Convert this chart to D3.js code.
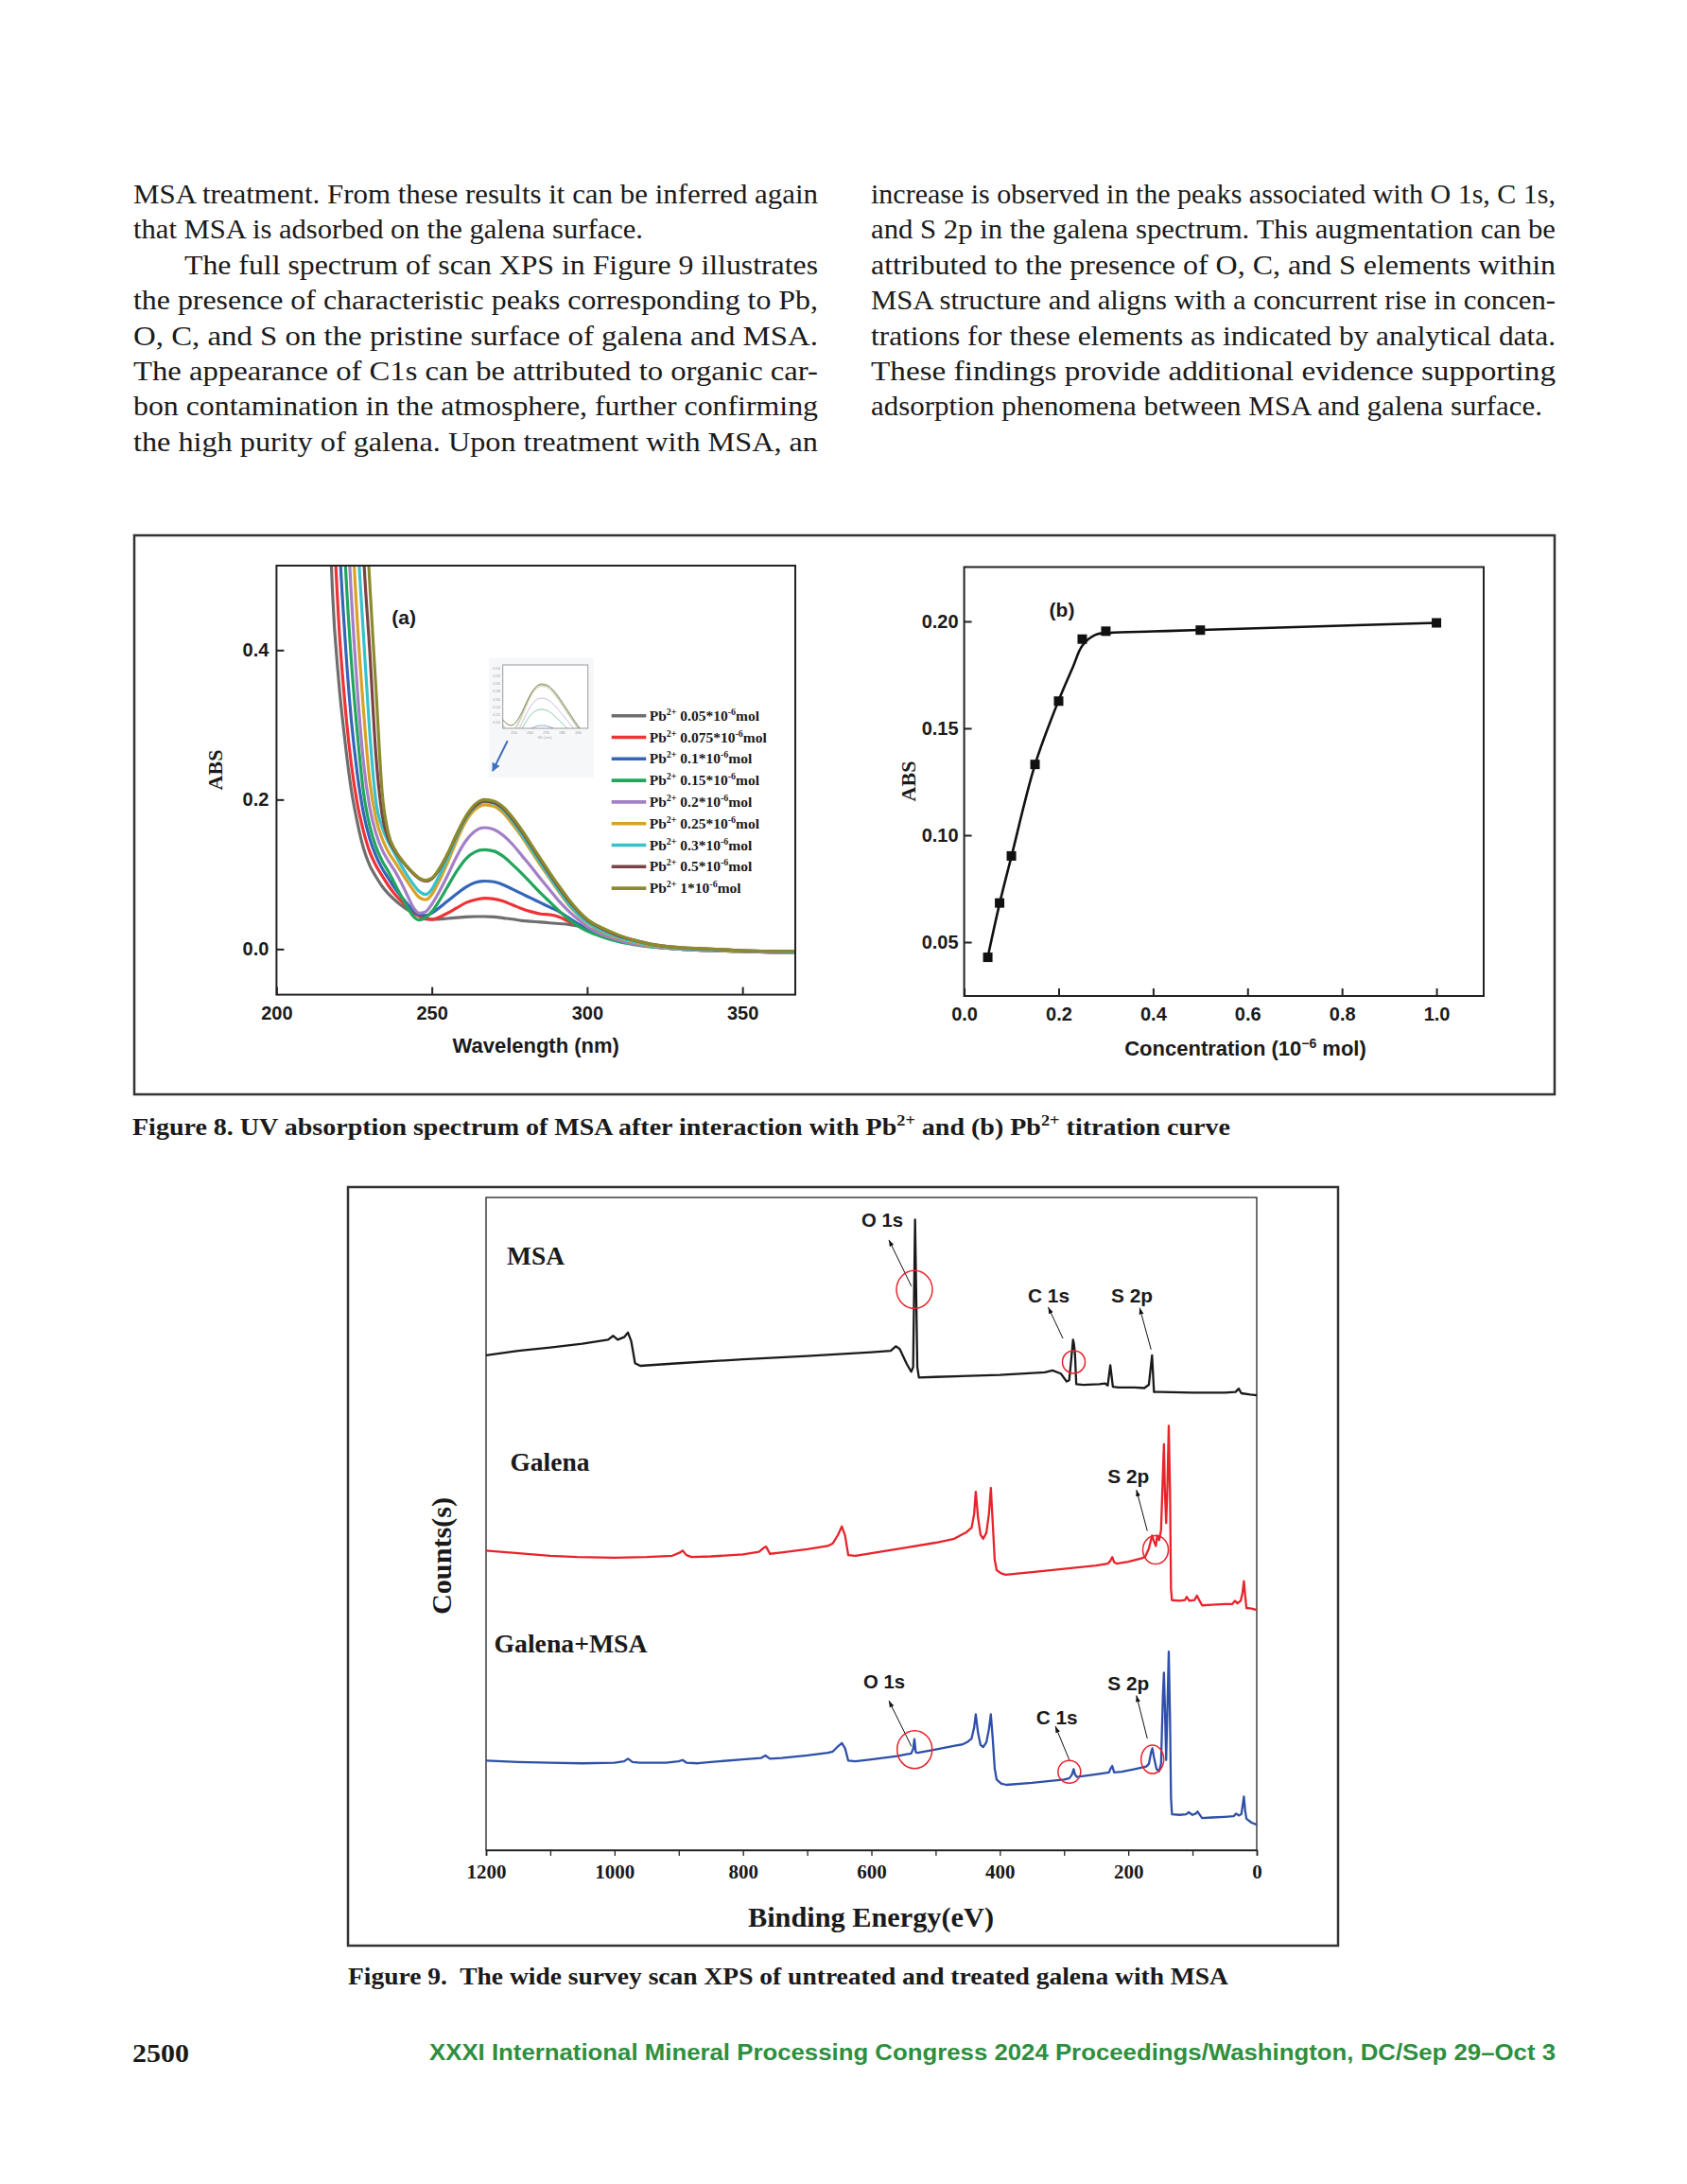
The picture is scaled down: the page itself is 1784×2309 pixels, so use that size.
<!DOCTYPE html>
<html>
<head>
<meta charset="utf-8">
<script src="https://cdn.jsdelivr.net/npm/d3@7"></script>
<style>
  body { margin: 0; background: #fff; }
  svg { display: block; }
</style>
</head>
<body>
<svg id="page" width="1784" height="2309"></svg>
<script>
// ---------- page text ----------
const leftLines = [
  "MSA treatment. From these results it can be inferred again",
  "that MSA is adsorbed on the galena surface.",
  "The full spectrum of scan XPS in Figure 9 illustrates",
  "the presence of characteristic peaks corresponding to Pb,",
  "O, C, and S on the pristine surface of galena and MSA.",
  "The appearance of C1s can be attributed to organic car-",
  "bon contamination in the atmosphere, further confirming",
  "the high purity of galena. Upon treatment with MSA, an"
];
const rightLines = [
  "increase is observed in the peaks associated with O 1s, C 1s,",
  "and S 2p in the galena spectrum. This augmentation can be",
  "attributed to the presence of O, C, and S elements within",
  "MSA structure and aligns with a concurrent rise in concen-",
  "trations for these elements as indicated by analytical data.",
  "These findings provide additional evidence supporting",
  "adsorption phenomena between MSA and galena surface."
];

// ---------- Figure 8a: UV spectra ----------
const wavelength = [212,214,216,218,220,222,224,226,228,230,232,234,236,238,240,242,244,246,248,250,
  252,255,258,261,264,267,270,273,276,279,282,285,288,291,294,297,300,
  305,310,315,320,330,340,350,360,367];
const abs005 = [2.0,1.2,0.75,0.48,0.36,0.28,0.215,0.17,0.135,0.112,0.097,0.084,0.074,0.066,0.059,0.053,0.048,0.044,0.041,0.040,
  0.040,0.041,0.042,0.043,0.0435,0.0435,0.043,0.0415,0.040,0.038,0.037,0.036,0.035,0.034,0.033,0.031,0.028,
  0.021,0.014,0.009,0.005,0.001,-0.001,-0.003,-0.004,-0.004];
const abs0075 = [3.0,1.8,1.0,0.63,0.44,0.33,0.25,0.195,0.158,0.13,0.112,0.098,0.085,0.074,0.065,0.057,0.05,0.044,0.040,0.0395,
  0.042,0.048,0.055,0.062,0.066,0.068,0.067,0.064,0.059,0.054,0.050,0.047,0.046,0.043,0.037,0.031,0.026,
  0.019,0.013,0.008,0.004,0.0,-0.002,-0.003,-0.004,-0.004];
const abs01 = [4.0,2.5,1.4,0.85,0.57,0.42,0.31,0.235,0.182,0.148,0.125,0.108,0.095,0.082,0.071,0.061,0.052,0.046,0.045,0.048,
  0.054,0.064,0.074,0.083,0.089,0.091,0.090,0.086,0.080,0.074,0.068,0.062,0.056,0.050,0.042,0.034,0.027,
  0.019,0.013,0.008,0.004,0.0,-0.002,-0.003,-0.004,-0.004];
const abs015 = [5.0,3.2,1.9,1.15,0.75,0.53,0.39,0.29,0.21,0.165,0.137,0.118,0.104,0.088,0.072,0.057,0.044,0.039,0.042,0.050,
  0.062,0.083,0.104,0.121,0.130,0.133,0.131,0.124,0.113,0.101,0.088,0.075,0.063,0.051,0.040,0.031,0.024,
  0.016,0.010,0.006,0.003,0.0,-0.002,-0.003,-0.004,-0.004];
const abs02 = [6.0,4.0,2.5,1.5,0.95,0.66,0.48,0.35,0.25,0.19,0.155,0.133,0.118,0.105,0.09,0.073,0.056,0.048,0.050,0.060,
  0.074,0.098,0.124,0.145,0.158,0.1625,0.160,0.152,0.140,0.125,0.110,0.094,0.079,0.064,0.051,0.040,0.030,
  0.019,0.012,0.007,0.004,0.0,-0.002,-0.003,-0.004,-0.004];
const abs025 = [7.0,5.0,3.2,2.0,1.25,0.85,0.6,0.44,0.32,0.225,0.175,0.148,0.13,0.117,0.104,0.091,0.079,0.069,0.066,0.073,
  0.088,0.115,0.145,0.171,0.187,0.193,0.191,0.182,0.167,0.150,0.131,0.112,0.094,0.076,0.059,0.046,0.035,
  0.023,0.015,0.009,0.005,0.001,-0.001,-0.003,-0.003,-0.004];
const abs03 = [8.0,6.0,4.0,2.6,1.6,1.05,0.75,0.56,0.42,0.29,0.198,0.163,0.143,0.128,0.113,0.099,0.087,0.077,0.073,0.080,
  0.095,0.121,0.150,0.175,0.191,0.197,0.195,0.186,0.171,0.153,0.134,0.115,0.096,0.078,0.061,0.047,0.036,
  0.024,0.016,0.010,0.006,0.001,-0.001,-0.002,-0.003,-0.004];
const abs05 = [9.0,7.0,5.0,3.4,2.2,1.45,1.0,0.74,0.53,0.40,0.26,0.18,0.148,0.132,0.12,0.11,0.101,0.094,0.091,0.094,
  0.104,0.126,0.153,0.177,0.192,0.198,0.196,0.188,0.174,0.157,0.138,0.119,0.100,0.082,0.065,0.051,0.039,
  0.027,0.018,0.012,0.007,0.002,0.0,-0.002,-0.003,-0.003];
const abs1 = [10,8,6,4,2.7,1.8,1.25,0.9,0.66,0.49,0.35,0.21,0.155,0.134,0.121,0.111,0.102,0.095,0.092,0.095,
  0.105,0.127,0.154,0.178,0.194,0.200,0.198,0.190,0.176,0.159,0.140,0.121,0.102,0.084,0.067,0.052,0.040,
  0.028,0.019,0.012,0.007,0.002,0.0,-0.002,-0.003,-0.003];

const uvLabels = ["0.05", "0.075", "0.1", "0.15", "0.2", "0.25", "0.3", "0.5", "1"];
const uvColors = ["#6e6e6e", "#ee3236", "#3465b8", "#22a55c", "#a27fc6", "#d9a227", "#37c1cb", "#7b4343", "#8c8a2e"];
const uvValues = [abs005, abs0075, abs01, abs015, abs02, abs025, abs03, abs05, abs1];

// ---------- Figure 8b: titration ----------
const concentration = [0.05, 0.075, 0.1, 0.15, 0.2, 0.25, 0.3, 0.5, 1.0];
const titrationAbs = [0.0429, 0.0683, 0.0903, 0.1331, 0.1627, 0.1917, 0.1954, 0.1959, 0.1993];
const fitConc = [0.05, 0.075, 0.1, 0.15, 0.2, 0.23, 0.25, 0.278, 0.307, 0.4, 0.5, 0.7, 1.0];
const fitAbs = [0.043, 0.068, 0.090, 0.133, 0.163, 0.1785, 0.1886, 0.1937, 0.1946, 0.1953, 0.196, 0.1973, 0.1993];

// ---------- Figure 9: XPS survey [binding energy, counts a.u.] ----------
const msaSpectrum = [[1200,75.8],[1150,76.5],[1100,77.0],[1050,77.6],[1010,78.2],[1002,78.8],[995,78.2],[985,78.6],[979,79.3],[974,78.0],
  [968,74.6],[960,74.2],[900,74.6],[800,75.2],[700,75.7],[600,76.3],[570,76.5],[562,77.2],[556,76.8],[545,74.5],[538,73.3],
  [535,74],[532,96.6],[528.5,74],[526,72.4],[500,72.5],[400,72.8],[330,73.2],[318,73.5],[305,73.0],[296,71.8],[292,72],
  [289,75],[286,78.2],[284.5,77.5],[283,76],[281,71.4],[270,71.3],[245,71.4],[236,71.5],[232,71.2],[228,74.3],[224,71.0],
  [215,70.9],[190,70.9],[175,70.8],[168,71.3],[163,75.8],[160,70.2],[150,70.2],[100,70.1],[50,70.1],[33,70.2],[28,70.7],
  [24,70.0],[10,69.8],[0,69.7]];
const galenaSpectrum = [[1200,45.9],[1150,45.5],[1100,45.1],[1058,44.9],[1000,44.8],[950,44.9],[910,45.1],[898,45.6],[894,45.9],
  [888,45.2],[880,44.9],[850,45.0],[800,45.3],[775,45.7],[768,46.3],[764,46.5],[758,45.4],[740,45.6],[700,46.1],[668,46.6],
  [660,47.0],[652,48.3],[646,49.6],[641,48.2],[636,45.2],[625,45.1],[600,45.5],[550,46.3],[500,47.1],[471,47.7],[462,48.2],
  [452,48.7],[444,49.4],[440,51.5],[437.5,54.9],[434,51],[430,48.3],[426,47.7],[421,48.6],[417,51.5],[414,55.5],[411,50],
  [408,44.5],[405,42.9],[398,42.4],[391,42.2],[350,42.6],[300,43.1],[250,43.6],[232,43.9],[228,44.3],[225,44.9],[222,44.1],
  [218,43.9],[200,44.2],[180,44.7],[174,44.9],[168,46.2],[163,48.2],[160,47.3],[157,46.6],[155,48.2],[152,47.5],[149,49.0],
  [146,58],[144.5,62.2],[143,55],[141,50.1],[139,56],[137,65.0],[135,55],[133.5,40],[132,38.3],[120,38.2],[112,38.3],
  [109,38.8],[105,38.2],[97,38.3],[93,39.0],[89,38.2],[85,37.5],[70,37.6],[50,37.7],[38,37.7],[34,38.2],[30,37.8],[25,38.2],
  [22,39.5],[20,41.2],[18,39],[16,37.1],[8,37.0],[0,36.8]];
const galenaMsaSpectrum = [[1200,13.7],[1150,13.5],[1100,13.4],[1050,13.3],[1000,13.4],[985,13.6],[979,14.0],[972,13.5],[960,13.4],
  [920,13.4],[900,13.6],[894,13.8],[888,13.4],[870,13.3],[850,13.5],[800,13.9],[772,14.1],[765,14.5],[758,14.0],[740,14.1],
  [700,14.5],[668,14.9],[660,15.1],[652,15.9],[646,16.4],[641,15.6],[636,13.7],[625,13.6],[600,13.9],[560,14.4],[545,14.7],
  [538,14.8],[535,15.5],[533,17.0],[531,15.0],[528,14.9],[500,15.4],[470,16.0],[458,16.2],[450,16.6],[444,17.1],[440,18.8],
  [437.5,20.8],[434,18],[430,16.1],[426,15.8],[421,16.5],[417,18.5],[414,20.8],[411,17],[408,12.5],[405,10.8],[398,10.2],
  [390,10.0],[350,10.3],[300,10.8],[292,11.0],[288,11.5],[285,12.4],[283,11.6],[280,11.2],[250,11.6],[230,11.9],[228,12.4],
  [225,12.9],[222,11.9],[210,12.0],[190,12.4],[172,12.8],[168,13.2],[164.5,15.0],[162.5,15.6],[160,14.2],[156,12.4],[152,12.1],
  [149,13.2],[146,24],[144.5,27.2],[143,22],[141,13.8],[139,22],[137,30.4],[135,20],[133.5,8],[132,5.5],[120,5.4],[110,5.5],
  [106,5.8],[100,5.4],[95,5.6],[92,5.9],[88,5.3],[85,4.9],[70,5.0],[50,5.1],[36,5.2],[32,5.6],[28,5.3],[24,5.5],[22,6.8],
  [20,8.2],[18,6],[16,4.8],[8,4.2],[0,3.9]];
const xpsTicks = [1200, 1000, 800, 600, 400, 200, 0];

const serif = "'Liberation Serif','Times New Roman',serif";
const sans = "'Liberation Sans',Arial,sans-serif";
const svg = d3.select('#page');
const defs = svg.append('defs');

defs.append('marker').attr('id', 'ah')
  .attr('viewBox', '0 0 10 10').attr('refX', 10).attr('refY', 5)
  .attr('markerWidth', 7).attr('markerHeight', 7).attr('orient', 'auto')
  .append('path').attr('d', 'M0,1.5 L10,5 L0,8.5 Z').attr('fill', '#111');
defs.append('marker').attr('id', 'ahBlue')
  .attr('viewBox', '0 0 10 10').attr('refX', 9).attr('refY', 5)
  .attr('markerWidth', 4.5).attr('markerHeight', 4.5).attr('orient', 'auto')
  .append('path').attr('d', 'M0,0 L10,5 L0,10 Z').attr('fill', '#3f6fc0');

// ---------- body text (justified with textLength) ----------
function drawColumn(lines, x0, x1, y0, lh, opts) {
  lines.forEach((ln, i) => {
    const indent = opts.indent[i] || 0;
    const w = opts.widths[i] || (x1 - x0 - indent);
    svg.append('text')
      .attr('x', x0 + indent).attr('y', y0 + i * lh)
      .attr('font-family', serif).attr('font-size', 30).attr('fill', '#1a1a1a')
      .attr('textLength', w).attr('lengthAdjust', 'spacingAndGlyphs')
      .text(ln);
  });
}
drawColumn(leftLines, 141, 865, 215, 37.4, { indent: { 2: 54 }, widths: { 1: 539 } });
drawColumn(rightLines, 921, 1645, 215, 37.4, { indent: {}, widths: { 6: 710 } });

// ---------- Figure 8 frame ----------
svg.append('rect').attr('x', 142).attr('y', 566).attr('width', 1502).attr('height', 591)
  .attr('fill', 'none').attr('stroke', '#333').attr('stroke-width', 2.5);

// ---------- Figure 8a ----------
const gA = svg.append('g');
const xA = d3.scaleLinear().domain([200, 367]).range([292.4, 841]);
const yA = d3.scaleLinear().domain([-0.061, 0.513]).range([1051.6, 598]);
defs.append('clipPath').attr('id', 'clipA').append('rect')
  .attr('x', xA.range()[0]).attr('y', yA.range()[1])
  .attr('width', xA.range()[1] - xA.range()[0]).attr('height', yA.range()[0] - yA.range()[1]);

// inset thumbnail (zoom of peak region)
const inset = gA.append('g');
inset.append('rect').attr('x', 517).attr('y', 696).attr('width', 111).attr('height', 126).attr('fill', '#f6f7f9');
const xIn = d3.scaleLinear().domain([243, 296]).range([531.7, 621.7]);
const yIn = d3.scaleLinear().domain([0.0836, 0.249]).range([770, 703]);
defs.append('clipPath').attr('id', 'clipIn').append('rect')
  .attr('x', 531.7).attr('y', 703).attr('width', 90).attr('height', 67);
inset.append('rect').attr('x', 531.7).attr('y', 703).attr('width', 90).attr('height', 67)
  .attr('fill', '#fff').attr('stroke', '#9a9a9a').attr('stroke-width', 1);
const lineIn = d3.line().x((d, i) => xIn(wavelength[i])).y(d => yIn(d)).curve(d3.curveMonotoneX);
const gInC = inset.append('g').attr('clip-path', 'url(#clipIn)');
uvValues.forEach((vals, k) => {
  gInC.append('path').attr('d', lineIn(vals)).attr('fill', 'none')
    .attr('stroke', uvColors[k]).attr('stroke-opacity', 0.55).attr('stroke-width', 1);
});
[0.1, 0.12, 0.14, 0.16, 0.18, 0.2, 0.22, 0.24].forEach(v => {
  inset.append('text').attr('x', 529).attr('y', yIn(v) + 1.5).attr('text-anchor', 'end')
    .attr('font-family', sans).attr('font-size', 4).attr('fill', '#999').text(v.toFixed(2));
});
[250, 260, 270, 280, 290].forEach(v => {
  inset.append('text').attr('x', xIn(v)).attr('y', 776).attr('text-anchor', 'middle')
    .attr('font-family', sans).attr('font-size', 4).attr('fill', '#999').text(v);
});
inset.append('text').attr('x', 576).attr('y', 781).attr('text-anchor', 'middle')
  .attr('font-family', sans).attr('font-size', 4).attr('fill', '#aaa').text('WL (nm)');
gA.append('line').attr('x1', 536.7).attr('y1', 783.3).attr('x2', 521).attr('y2', 815)
  .attr('stroke', '#3f6fc0').attr('stroke-width', 2).attr('marker-end', 'url(#ahBlue)');

const lineA = d3.line().x((d, i) => xA(wavelength[i])).y(d => yA(d)).curve(d3.curveMonotoneX);
const gAC = gA.append('g').attr('clip-path', 'url(#clipA)');
uvValues.forEach((vals, k) => {
  gAC.append('path').attr('d', lineA(vals)).attr('fill', 'none')
    .attr('stroke', uvColors[k]).attr('stroke-width', 3.2).attr('stroke-linejoin', 'round');
});

function styleAxis(g, font, size) {
  g.select('.domain').remove();
  g.selectAll('.tick line').attr('stroke', '#222').attr('stroke-width', 2);
  g.selectAll('.tick text').attr('font-family', font).attr('font-size', size)
    .attr('font-weight', 'bold').attr('fill', '#1a1a1a');
}
const axAx = gA.append('g').attr('transform', `translate(0,${yA.range()[0]})`)
  .call(d3.axisBottom(xA).tickValues([200, 250, 300, 350]).tickSize(-8).tickPadding(12));
styleAxis(axAx, sans, 20);
const axAy = gA.append('g').attr('transform', `translate(${xA.range()[0]},0)`)
  .call(d3.axisLeft(yA).tickValues([0, 0.2, 0.4]).tickFormat(d3.format('.1f')).tickSize(-8).tickPadding(8));
styleAxis(axAy, sans, 20);
gA.append('rect').attr('x', xA.range()[0]).attr('y', yA.range()[1])
  .attr('width', xA.range()[1] - xA.range()[0]).attr('height', yA.range()[0] - yA.range()[1])
  .attr('fill', 'none').attr('stroke', '#222').attr('stroke-width', 2);

gA.append('text').attr('x', 566.7).attr('y', 1113).attr('text-anchor', 'middle')
  .attr('font-family', sans).attr('font-weight', 'bold').attr('font-size', 22).attr('fill', '#1a1a1a')
  .text('Wavelength (nm)');
gA.append('text').attr('transform', 'translate(235,814) rotate(-90)').attr('text-anchor', 'middle')
  .attr('font-family', serif).attr('font-weight', 'bold').attr('font-size', 22).attr('fill', '#1a1a1a')
  .text('ABS');
gA.append('text').attr('x', xA(241)).attr('y', yA(0.435)).attr('text-anchor', 'middle')
  .attr('font-family', sans).attr('font-weight', 'bold').attr('font-size', 21).attr('fill', '#1a1a1a')
  .text('(a)');

// legend
uvLabels.forEach((lab, k) => {
  const y = 756.7 + k * 22.8;
  gA.append('line').attr('x1', 646.7).attr('x2', 683.3).attr('y1', y).attr('y2', y)
    .attr('stroke', uvColors[k]).attr('stroke-width', 3.6);
  const t = gA.append('text').attr('x', 686.7).attr('y', y + 5)
    .attr('font-family', serif).attr('font-weight', 'bold').attr('font-size', 15.5).attr('fill', '#1a1a1a');
  t.append('tspan').text('Pb');
  t.append('tspan').attr('font-size', 10).attr('dy', -6).text('2+');
  t.append('tspan').attr('dy', 6).text(' ' + lab + '*10');
  t.append('tspan').attr('font-size', 10).attr('dy', -6).text('-6');
  t.append('tspan').attr('dy', 6).text('mol');
});

// ---------- Figure 8b ----------
const gB = svg.append('g');
const xB = d3.scaleLinear().domain([0, 1.1]).range([1019.6, 1569]);
const yB = d3.scaleLinear().domain([0.0248, 0.2254]).range([1053, 599.5]);
const axBx = gB.append('g').attr('transform', `translate(0,${yB.range()[0]})`)
  .call(d3.axisBottom(xB).tickValues([0, 0.2, 0.4, 0.6, 0.8, 1.0]).tickFormat(d3.format('.1f')).tickSize(-8).tickPadding(12));
styleAxis(axBx, sans, 20);
const axBy = gB.append('g').attr('transform', `translate(${xB.range()[0]},0)`)
  .call(d3.axisLeft(yB).tickValues([0.05, 0.10, 0.15, 0.20]).tickFormat(d3.format('.2f')).tickSize(-8).tickPadding(6));
styleAxis(axBy, sans, 20);
gB.append('rect').attr('x', xB.range()[0]).attr('y', yB.range()[1])
  .attr('width', xB.range()[1] - xB.range()[0]).attr('height', yB.range()[0] - yB.range()[1])
  .attr('fill', 'none').attr('stroke', '#222').attr('stroke-width', 2);
const lineB = d3.line().x((d, i) => xB(fitConc[i])).y(d => yB(d)).curve(d3.curveCatmullRom.alpha(0.5));
gB.append('path').attr('d', lineB(fitAbs)).attr('fill', 'none').attr('stroke', '#111').attr('stroke-width', 2.6);
gB.selectAll('rect.pt').data(concentration).join('rect').attr('class', 'pt')
  .attr('x', d => xB(d) - 5).attr('y', (d, i) => yB(titrationAbs[i]) - 5)
  .attr('width', 10).attr('height', 10).attr('fill', '#111');
gB.append('text').attr('x', xB(0.207)).attr('y', yB(0.2022)).attr('text-anchor', 'middle')
  .attr('font-family', sans).attr('font-weight', 'bold').attr('font-size', 21).attr('fill', '#1a1a1a')
  .text('(b)');
gB.append('text').attr('transform', 'translate(968,826) rotate(-90)').attr('text-anchor', 'middle')
  .attr('font-family', serif).attr('font-weight', 'bold').attr('font-size', 22).attr('fill', '#1a1a1a')
  .text('ABS');
const cl = gB.append('text').attr('x', 1317).attr('y', 1116).attr('text-anchor', 'middle')
  .attr('font-family', sans).attr('font-weight', 'bold').attr('font-size', 22).attr('fill', '#1a1a1a');
cl.append('tspan').text('Concentration (10');
cl.append('tspan').attr('font-size', 14).attr('dy', -8).text('\u22126');
cl.append('tspan').attr('dy', 8).text(' mol)');

// Figure 8 caption
const cap8 = svg.append('text').attr('x', 140).attr('y', 1200)
  .attr('font-family', serif).attr('font-weight', 'bold').attr('font-size', 26).attr('fill', '#1a1a1a')
  .attr('textLength', 1161).attr('lengthAdjust', 'spacingAndGlyphs');
cap8.append('tspan').text('Figure 8. UV absorption spectrum of MSA after interaction with Pb');
cap8.append('tspan').attr('font-size', 17).attr('dy', -10).text('2+');
cap8.append('tspan').attr('dy', 10).text(' and (b) Pb');
cap8.append('tspan').attr('font-size', 17).attr('dy', -10).text('2+');
cap8.append('tspan').attr('dy', 10).text(' titration curve');

// ---------- Figure 9 ----------
svg.append('rect').attr('x', 368).attr('y', 1255).attr('width', 1047).attr('height', 802)
  .attr('fill', 'none').attr('stroke', '#333').attr('stroke-width', 2.5);
const gC = svg.append('g');
const xC = d3.scaleLinear().domain([1200, 0]).range([514, 1329]);
const yC = d3.scaleLinear().domain([0, 100]).range([1956, 1266]);
gC.append('rect').attr('x', 514).attr('y', 1266).attr('width', 815).attr('height', 690)
  .attr('fill', 'none').attr('stroke', '#222').attr('stroke-width', 1.3);
const axC = gC.append('g').attr('transform', `translate(0,${yC.range()[0]})`)
  .call(d3.axisBottom(xC).tickValues(d3.range(0, 1201, 100))
    .tickFormat(d => xpsTicks.includes(d) ? d : '').tickSize(6).tickPadding(9));
axC.select('.domain').attr('stroke', '#222').attr('stroke-width', 1.6);
axC.selectAll('.tick line').attr('stroke', '#222').attr('stroke-width', 1.3);
axC.selectAll('.tick text').attr('font-family', serif).attr('font-size', 21)
  .attr('font-weight', 'bold').attr('fill', '#1a1a1a');

const lineC = d3.line().x(d => xC(d[0])).y(d => yC(d[1]));
[[msaSpectrum, '#1a1a1a'], [galenaSpectrum, '#e8232b'], [galenaMsaSpectrum, '#2f4fa8']].forEach(([s, c]) => {
  gC.append('path').attr('d', lineC(s)).attr('fill', 'none').attr('stroke', c)
    .attr('stroke-width', 2.3).attr('stroke-linejoin', 'round');
});

const names = [['MSA', 1167.6, 89.7, 61], ['Galena', 1162.5, 58.1, 84], ['Galena+MSA', 1187.5, 30.3, 162]];
names.forEach(([t, e, v, w]) => {
  gC.append('text').attr('x', xC(e)).attr('y', yC(v))
    .attr('font-family', serif).attr('font-weight', 'bold').attr('font-size', 27).attr('fill', '#1a1a1a')
    .attr('textLength', w).attr('lengthAdjust', 'spacingAndGlyphs').text(t);
});

// peak annotations: label pos, arrow tail -> head, circle (data coords)
const notes = [
  { t: 'O 1s', lx: 615.5, ly: 95.5, a: [537.7, 86.4, 572.8, 93.5], c: [533, 85.9, 19, 20] },
  { t: 'C 1s', lx: 356.3, ly: 83.9, a: [301.8, 78.4, 324.7, 83.2], c: [284.9, 74.8, 12, 12] },
  { t: 'S 2p', lx: 226.7, ly: 83.9, a: [164.5, 76.7, 182.3, 83.1], c: null },
  { t: 'S 2p', lx: 232.1, ly: 56.2, a: [170.4, 48.9, 187.3, 55.2], c: [157.5, 46.0, 13.5, 15] },
  { t: 'O 1s', lx: 612.5, ly: 24.8, a: [537.7, 15.9, 572.8, 22.9], c: [532.7, 15.4, 18.5, 20] },
  { t: 'C 1s', lx: 343.6, ly: 19.3, a: [291.8, 13.8, 313.6, 19.0], c: [291.8, 12.0, 12, 12] },
  { t: 'S 2p', lx: 232.1, ly: 24.5, a: [170.4, 17.1, 187.3, 23.7], c: [162.4, 13.9, 12, 15] }
];
notes.forEach(n => {
  gC.append('text').attr('x', xC(n.lx)).attr('y', yC(n.ly))
    .attr('font-family', sans).attr('font-weight', 'bold').attr('font-size', 21).attr('fill', '#1a1a1a')
    .attr('textLength', 44).attr('lengthAdjust', 'spacingAndGlyphs').text(n.t);
  gC.append('line').attr('x1', xC(n.a[0])).attr('y1', yC(n.a[1])).attr('x2', xC(n.a[2])).attr('y2', yC(n.a[3]))
    .attr('stroke', '#111').attr('stroke-width', 1).attr('marker-end', 'url(#ah)');
  if (n.c) {
    gC.append('ellipse').attr('cx', xC(n.c[0])).attr('cy', yC(n.c[1])).attr('rx', n.c[2]).attr('ry', n.c[3])
      .attr('fill', 'none').attr('stroke', '#e8232b').attr('stroke-width', 1.5);
  }
});

gC.append('text').attr('x', 921).attr('y', 2037).attr('text-anchor', 'middle')
  .attr('font-family', serif).attr('font-weight', 'bold').attr('font-size', 30).attr('fill', '#1a1a1a')
  .attr('textLength', 260).attr('lengthAdjust', 'spacingAndGlyphs').text('Binding Energy(eV)');
gC.append('text').attr('transform', 'translate(477,1645) rotate(-90)').attr('text-anchor', 'middle')
  .attr('font-family', serif).attr('font-weight', 'bold').attr('font-size', 30).attr('fill', '#1a1a1a')
  .attr('textLength', 124).attr('lengthAdjust', 'spacingAndGlyphs').text('Counts(s)');

svg.append('text').attr('x', 368).attr('y', 2098)
  .attr('font-family', serif).attr('font-weight', 'bold').attr('font-size', 26).attr('fill', '#1a1a1a')
  .attr('textLength', 931).attr('lengthAdjust', 'spacingAndGlyphs')
  .attr('xml:space', 'preserve')
  .text('Figure 9.  The wide survey scan XPS of untreated and treated galena with MSA');

// ---------- footer ----------
svg.append('text').attr('x', 140).attr('y', 2180)
  .attr('font-family', serif).attr('font-weight', 'bold').attr('font-size', 28).attr('fill', '#1a1a1a')
  .attr('textLength', 60).attr('lengthAdjust', 'spacingAndGlyphs').text('2500');
svg.append('text').attr('x', 454).attr('y', 2178)
  .attr('font-family', sans).attr('font-weight', 'bold').attr('font-size', 23).attr('fill', '#2e8f3e')
  .attr('textLength', 1191).attr('lengthAdjust', 'spacingAndGlyphs')
  .text('XXXI International Mineral Processing Congress 2024 Proceedings/Washington, DC/Sep 29\u2013Oct 3');
</script>
</body>
</html>
